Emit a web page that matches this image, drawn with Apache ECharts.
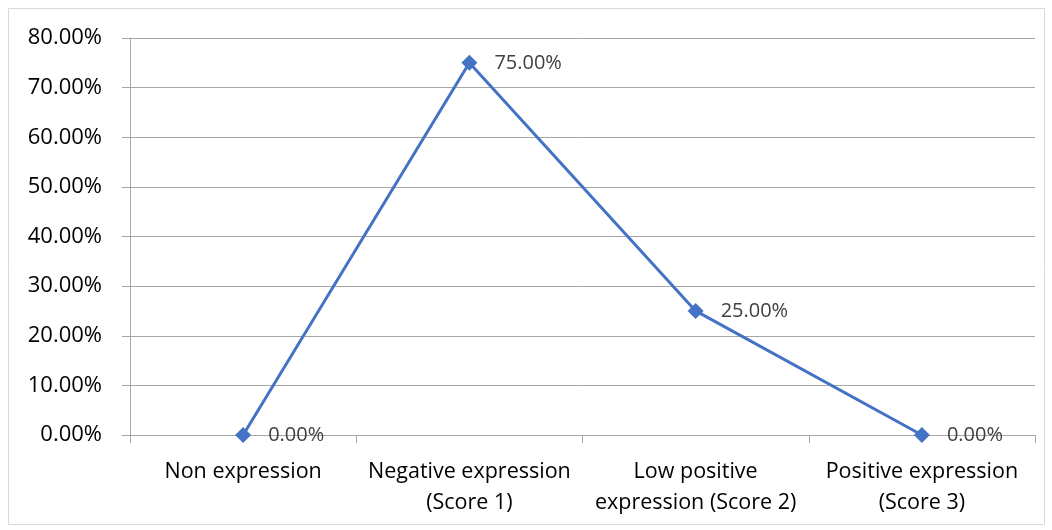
<!DOCTYPE html>
<html>
<head>
<meta charset="utf-8">
<script src="https://cdn.jsdelivr.net/npm/echarts@6/dist/echarts.min.js"></script>
<style>html,body{margin:0;padding:0;background:#fff}#c{width:1052px;height:530px}</style>
</head>
<body>
<div id="c"></div>
<script>
var categories = ['Non expression', 'Negative expression\n(Score 1)', 'Low positive\nexpression (Score 2)', 'Positive expression\n(Score 3)'];
var values = [0, 75, 25, 0];
var yTicks = {min: 0, max: 80, interval: 10};

var chart = echarts.init(document.getElementById('c'));
var font = 'Open Sans';
chart.setOption({
  animation: false,
  backgroundColor: '#fff',
  graphic: [{type: 'rect', shape: {x: 8.5, y: 8.5, width: 1036, height: 516}, style: {fill: 'none', stroke: '#d9d9d9', lineWidth: 1}, silent: true}],
  grid: {left: 130, right: 17, top: 38, bottom: 95},
  xAxis: {
    type: 'category',
    data: categories,
    boundaryGap: true,
    axisLine: {lineStyle: {color: '#a6a6a6', width: 1}},
    axisTick: {show: true, length: 8, interval: 0, lineStyle: {color: '#a6a6a6'}},
    axisLabel: {interval: 0, color: '#000', fontFamily: font, fontSize: 21.5, lineHeight: 31, margin: 21}
  },
  yAxis: {
    type: 'value',
    min: yTicks.min, max: yTicks.max, interval: yTicks.interval,
    axisLine: {show: true, lineStyle: {color: '#a6a6a6', width: 1}},
    axisTick: {show: true, length: 8, lineStyle: {color: '#a6a6a6'}},
    splitLine: {lineStyle: {color: '#a6a6a6', width: 1}},
    axisLabel: {color: '#000', fontFamily: font, fontSize: 22, margin: 28, formatter: function(v){return v.toFixed(2)+'%';}}
  },
  series: [{
    type: 'line',
    data: values,
    symbol: 'diamond',
    symbolSize: 16,
    lineStyle: {color: '#4472c4', width: 3},
    itemStyle: {color: '#4472c4'},
    label: {show: true, position: 'right', distance: 17, color: '#404040', fontFamily: font, fontSize: 20,
      formatter: function(p){return p.value.toFixed(2)+'%';}}
  }]
});
</script>
</body>
</html>
